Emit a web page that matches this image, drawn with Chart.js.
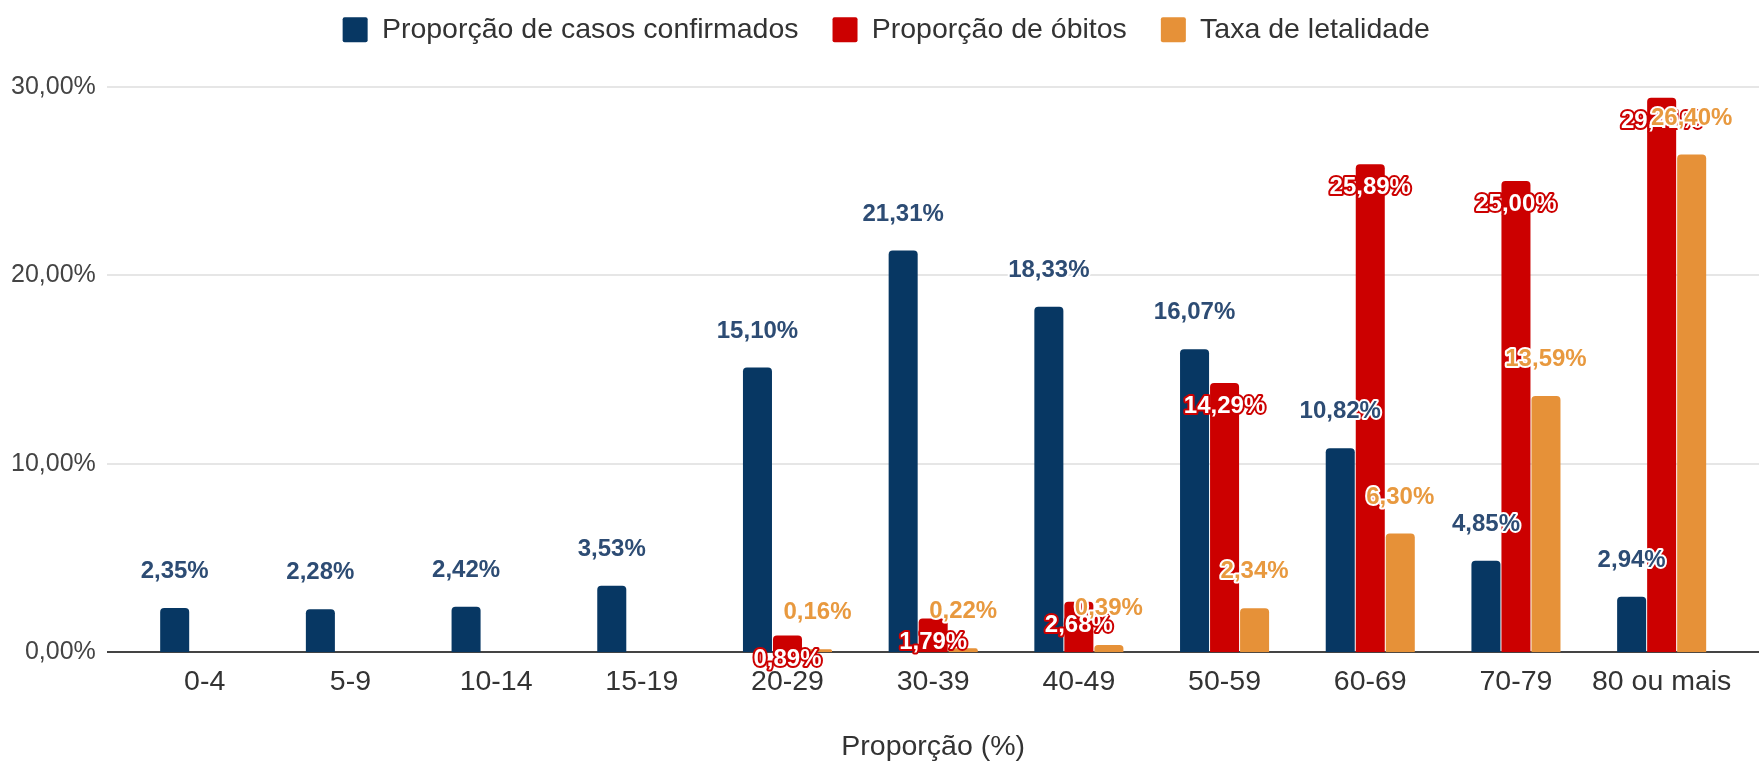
<!DOCTYPE html>
<html>
<head>
<meta charset="utf-8">
<script src="https://cdn.jsdelivr.net/npm/chart.js@4/dist/chart.umd.min.js"></script>
<style>
html,body{margin:0;padding:0;background:#ffffff;}
#wrap{width:1759px;height:767px;position:relative;}
</style>
</head>
<body>
<div id="wrap"><canvas id="c" width="1759" height="767"></canvas></div>
<script>
const categories = ['0-4','5-9','10-14','15-19','20-29','30-39','40-49','50-59','60-69','70-79','80 ou mais'];
const confirmedShare = [2.35, 2.28, 2.42, 3.53, 15.10, 21.31, 18.33, 16.07, 10.82, 4.85, 2.94];
const deathShare = [null, null, null, null, 0.89, 1.79, 2.68, 14.29, 25.89, 25.00, 29.41];
const fatalityRate = [null, null, null, null, 0.16, 0.22, 0.39, 2.34, 6.30, 13.59, 26.40];
const seriesNames = ['Proporção de casos confirmados', 'Proporção de óbitos', 'Taxa de letalidade'];
const yTickValues = [0, 10, 20, 30];
const xAxisTitle = 'Proporção (%)';

const FONT = "'Liberation Sans', Arial, sans-serif";
const fmt = v => v.toFixed(2).replace('.', ',') + '%';

const labelStyles = [
  {fill: '#2d4c74', stroke: '#ffffff', dy: -30},
  {fill: '#ffffff', stroke: '#cc0000', dy: 30},
  {fill: '#e8993f', stroke: '#ffffff', dy: -30}
];

const legendSpacer = {
  id: 'legendSpacer',
  beforeLayout(chart) {
    const lg = chart.legend;
    if (lg && !lg._patched) {
      const fit = lg.fit;
      lg.fit = function () { fit.call(this); this.height = 105.2; };
      lg._patched = true;
    }
  },
  afterLayout(chart) {
    const lg = chart.legend;
    if (lg) { lg.left += 19; lg.right += 19; }
  }
};

const gridPlugin = {
  id: 'gridPlugin',
  beforeDatasetsDraw(chart) {
    const ctx = chart.ctx;
    const ys = chart.scales.y;
    ctx.save();
    ys.ticks.forEach(t => {
      const y = Math.round(ys.getPixelForValue(t.value));
      ctx.beginPath();
      ctx.lineWidth = 2;
      ctx.strokeStyle = t.value === 0 ? '#444444' : '#e6e6e6';
      ctx.moveTo(107, y);
      ctx.lineTo(1759, y);
      ctx.stroke();
    });
    ctx.restore();
  }
};

const labelPlugin = {
  id: 'labelPlugin',
  afterDatasetsDraw(chart) {
    const ctx = chart.ctx;
    ctx.save();
    ctx.font = 'bold 24px ' + FONT;
    ctx.textAlign = 'center';
    ctx.textBaseline = 'alphabetic';
    ctx.lineJoin = 'round';
    chart.data.datasets.forEach((ds, i) => {
      const meta = chart.getDatasetMeta(i);
      const st = labelStyles[i];
      meta.data.forEach((bar, j) => {
        const v = ds.data[j];
        if (v === null || v === undefined) return;
        const t = fmt(v);
        const y = bar.y + st.dy;
        ctx.lineWidth = 4;
        ctx.strokeStyle = st.stroke;
        ctx.strokeText(t, bar.x, y);
        ctx.fillStyle = st.fill;
        ctx.fillText(t, bar.x, y);
      });
    });
    ctx.restore();
  }
};

new Chart(document.getElementById('c'), {
  type: 'bar',
  data: {
    labels: categories,
    datasets: [
      {label: seriesNames[0], data: confirmedShare, backgroundColor: '#073763'},
      {label: seriesNames[1], data: deathShare, backgroundColor: '#cc0000'},
      {label: seriesNames[2], data: fatalityRate, backgroundColor: '#e69138'}
    ]
  },
  options: {
    responsive: false,
    animation: false,
    devicePixelRatio: 1,
    datasets: {
      bar: {categoryPercentage: 0.618, barPercentage: 0.967, borderRadius: 4}
    },
    layout: {padding: {top: -18.5, left: 0, right: 24.5, bottom: 0}},
    plugins: {
      tooltip: {enabled: false},
      legend: {
        position: 'top',
        labels: {
          boxWidth: 25, boxHeight: 25, padding: 34, color: '#333333',
          font: {family: FONT, size: 28.5},
          useBorderRadius: true, borderRadius: 2
        }
      }
    },
    scales: {
      x: {
        grid: {display: false},
        border: {display: false},
        ticks: {color: '#333333', font: {family: FONT, size: 28.5}, padding: 5, maxRotation: 0, autoSkip: false},
        title: {display: true, text: xAxisTitle, color: '#333333', font: {family: FONT, size: 28.5}, padding: {top: 0, bottom: 3}},
        afterFit(s) { s.height = 114.7; }
      },
      y: {
        min: 0, max: 30,
        grid: {display: false},
        border: {display: false},
        ticks: {color: '#444444', font: {family: FONT, size: 25}, padding: 28, callback: v => fmt(v)},
        afterBuildTicks(s) { s.ticks = yTickValues.map(v => ({value: v})); },
        afterFit(s) { s.width = 131.85; }
      }
    }
  },
  plugins: [legendSpacer, gridPlugin, labelPlugin]
});
</script>
</body>
</html>
